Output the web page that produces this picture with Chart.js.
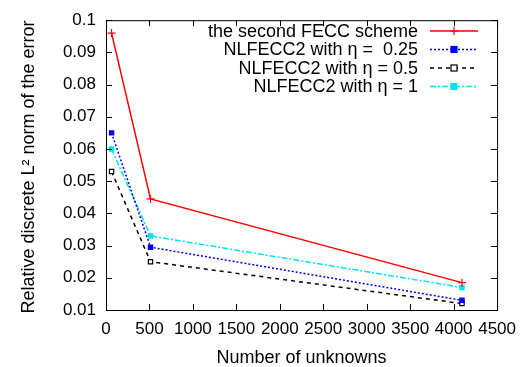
<!DOCTYPE html>
<html><head><meta charset="utf-8">
<script src="https://cdn.jsdelivr.net/npm/chart.js@4"></script>
<style>html,body{margin:0;padding:0;background:#fff}#w{width:525px;height:367px}</style>
</head><body><div id="w"><canvas id="c"></canvas></div>
<script>
const unknowns = [64, 512, 4096];
const fecc2 = [0.096, 0.0445, 0.0185];
const eta025 = [0.065, 0.0295, 0.013];
const eta05 = [0.053, 0.025, 0.012];
const eta1 = [0.060, 0.033, 0.017];
const seriesLabels = ['the second FECC scheme', 'NLFECC2 with \u03b7 =  0.25', 'NLFECC2 with \u03b7 = 0.5', 'NLFECC2 with \u03b7 = 1'];
const xTicks = [0,500,1000,1500,2000,2500,3000,3500,4000,4500];
const yTicks = [0.01,0.02,0.03,0.04,0.05,0.06,0.07,0.08,0.09,0.1];
const xTitle = 'Number of unknowns';
const yTitle = 'Relative discrete L\u00b2 norm of the error';
const FONT = 'Liberation Sans, Arial, sans-serif';

function pts(ys){ return unknowns.map((x,i)=>({x, y: ys[i]})); }

const styles = [
  {color:'#ff0000', dash:[], point:'cross', r:4, fill:'#ff0000'},
  {color:'#0000ff', dash:[2,2], point:'rect', r:3, fill:'#0000ff'},
  {color:'#000000', dash:[4,4], point:'rect', r:3, fill:'#ffffff'},
  {color:'#00e5ee', dash:[6,2,2,2], point:'rect', r:3, fill:'#00e5ee'}
];
const data = [fecc2, eta025, eta05, eta1];

const datasets = data.map((d,i)=>({
  label: seriesLabels[i], data: pts(d),
  borderColor: styles[i].color, borderDash: styles[i].dash, borderWidth: 1.5,
  pointStyle: styles[i].point, pointRadius: styles[i].r,
  pointBackgroundColor: styles[i].fill, pointBorderColor: styles[i].color, pointBorderWidth: 1.2,
  tension: 0
}));

const inner = {
  id:'inner',
  afterDraw(chart){
    const {ctx, chartArea:a, scales:{x,y}} = chart;
    ctx.save();
    ctx.strokeStyle='#000'; ctx.lineWidth=1;
    ctx.strokeRect(a.left+0.5, a.top+0.5, a.right-a.left, a.bottom-a.top);
    ctx.beginPath();
    xTicks.forEach(v=>{ const p=Math.round(x.getPixelForValue(v))+0.5;
      ctx.moveTo(p,a.bottom); ctx.lineTo(p,a.bottom-6);
      ctx.moveTo(p,a.top); ctx.lineTo(p,a.top+6); });
    yTicks.forEach(v=>{ const p=Math.round(y.getPixelForValue(v))+0.5;
      ctx.moveTo(a.left,p); ctx.lineTo(a.left+6,p);
      ctx.moveTo(a.right,p); ctx.lineTo(a.right-6,p); });
    ctx.stroke();
    // axis titles
    ctx.fillStyle='#000';
    ctx.font = '18px ' + FONT;
    ctx.textAlign='center'; ctx.textBaseline='middle';
    ctx.fillText(xTitle, (a.left+a.right)/2, 358);
    ctx.save();
    ctx.translate(29, 167); ctx.rotate(-Math.PI/2);
    ctx.fillText(yTitle, 0, 0);
    ctx.restore();
    // legend
    ctx.textAlign='right';
    const textRight = 418, lx0 = 430, lx1 = 478;
    chart.data.datasets.forEach((ds,i)=>{
      const yy = 31 + i*18.5;
      ctx.fillStyle='#000';
      ctx.fillText(ds.label, textRight, yy+1);
      ctx.strokeStyle=ds.borderColor; ctx.lineWidth=1.5; ctx.setLineDash(ds.borderDash);
      ctx.beginPath(); ctx.moveTo(lx0,yy); ctx.lineTo(lx1,yy); ctx.stroke();
      ctx.setLineDash([]);
      const mx=(lx0+lx1)/2;
      ctx.lineWidth=1.2;
      if(ds.pointStyle==='cross'){ ctx.beginPath(); ctx.moveTo(mx-4,yy); ctx.lineTo(mx+4,yy); ctx.moveTo(mx,yy-4); ctx.lineTo(mx,yy+4); ctx.stroke(); }
      else { ctx.fillStyle=ds.pointBackgroundColor; ctx.fillRect(mx-3,yy-3,6,6); ctx.strokeRect(mx-3,yy-3,6,6); }
    });
    ctx.restore();
  }
};

new Chart(document.getElementById('c'), {
  type:'line',
  data:{datasets},
  options:{
    responsive:true, maintainAspectRatio:false, animation:false,
    layout:{padding:{top:17, right:24, left:0, bottom:0}},
    plugins:{legend:{display:false}, tooltip:{enabled:false}},
    scales:{
      x:{type:'linear', min:0, max:4500,
        afterBuildTicks(s){ s.ticks = xTicks.map(v=>({value:v})); },
        afterFit(s){ s.height = 57; },
        grid:{display:false, drawTicks:false}, border:{display:false},
        ticks:{color:'#000', font:{family:FONT, size:17}, padding:9, maxRotation:0, autoSkip:false,
          callback:v=>String(v)},
        title:{display:false}
      },
      y:{type:'linear', min:0.01, max:0.1,
        afterBuildTicks(s){ s.ticks = yTicks.map(v=>({value:v})); },
        afterFit(s){ s.width = 106; },
        grid:{display:false, drawTicks:false}, border:{display:false},
        ticks:{color:'#000', font:{family:FONT, size:17}, padding:10, autoSkip:false,
          callback:v=>String(+v.toFixed(2))},
        title:{display:false}
      }
    }
  },
  plugins:[inner]
});
</script></body></html>
